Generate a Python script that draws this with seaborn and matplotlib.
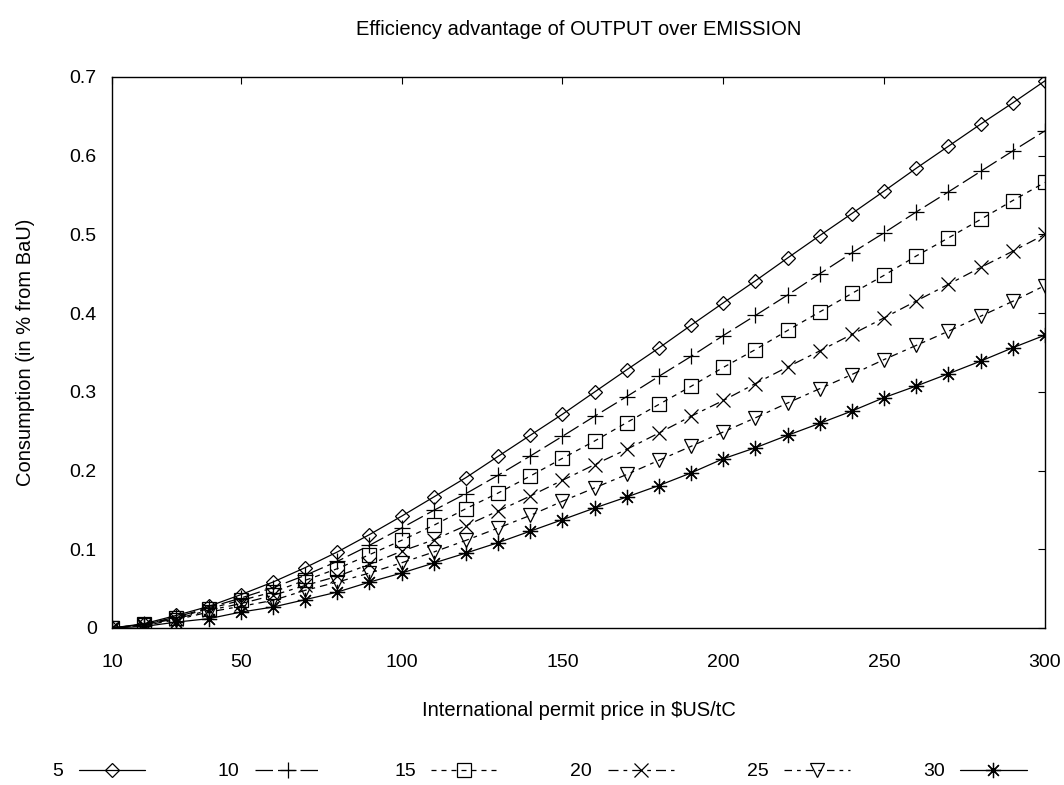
import numpy as np
import pandas as pd
import matplotlib
matplotlib.use("Agg")
import matplotlib.pyplot as plt
import seaborn as sns

prices = [10, 20, 30, 40, 50, 60, 70, 80, 90, 100, 110, 120, 130, 140, 150,
          160, 170, 180, 190, 200, 210, 220, 230, 240, 250, 260, 270, 280, 290, 300]

s5 = [0, 0.0055, 0.016, 0.0274, 0.0423, 0.0583, 0.0766, 0.0965, 0.1186, 0.142,
      0.1664, 0.191, 0.218, 0.2448, 0.2715, 0.2998, 0.328, 0.3557, 0.3846, 0.413,
      0.441, 0.470, 0.4985, 0.5265, 0.555, 0.584, 0.612, 0.640, 0.667, 0.695]
s10 = [0, 0.0046, 0.0139, 0.0258, 0.038, 0.0512, 0.0668, 0.0846, 0.105, 0.127,
       0.1494, 0.1707, 0.194, 0.2184, 0.2435, 0.269, 0.294, 0.3197, 0.345, 0.3715,
       0.397, 0.423, 0.450, 0.4765, 0.502, 0.5285, 0.554, 0.580, 0.606, 0.6315]
s15 = [0, 0.0046, 0.013, 0.0245, 0.035, 0.0456, 0.0605, 0.0753, 0.0931, 0.1113,
       0.1304, 0.1516, 0.1714, 0.193, 0.2155, 0.2375, 0.261, 0.284, 0.307, 0.331,
       0.3537, 0.378, 0.4015, 0.425, 0.448, 0.4726, 0.4955, 0.519, 0.543, 0.566]
s20 = [0, 0.0042, 0.0118, 0.0224, 0.0309, 0.0414, 0.054, 0.0656, 0.0808, 0.0975,
       0.112, 0.130, 0.1486, 0.1676, 0.1876, 0.2075, 0.227, 0.2477, 0.269, 0.289,
       0.3105, 0.3316, 0.352, 0.373, 0.394, 0.4154, 0.4366, 0.458, 0.4786, 0.500]
s25 = [0, 0.0033, 0.0105, 0.0202, 0.0275, 0.035, 0.0478, 0.0583, 0.0698, 0.0828,
       0.0965, 0.1113, 0.127, 0.143, 0.161, 0.178, 0.195, 0.213, 0.2308, 0.249,
       0.267, 0.2858, 0.304, 0.322, 0.341, 0.359, 0.377, 0.396, 0.415, 0.435]
s30 = [0, 0.002, 0.0075, 0.0118, 0.0202, 0.0266, 0.036, 0.0456, 0.0583, 0.0698,
       0.0825, 0.0952, 0.1084, 0.123, 0.1376, 0.1524, 0.1664, 0.181, 0.197, 0.215,
       0.229, 0.2448, 0.260, 0.2756, 0.2927, 0.3074, 0.323, 0.339, 0.356, 0.372]

series_labels = ["5", "10", "15", "20", "25", "30"]
series_values = [s5, s10, s15, s20, s25, s30]

x_ticks = [10, 50, 100, 150, 200, 250, 300]
y_ticks = [0, 0.1, 0.2, 0.3, 0.4, 0.5, 0.6, 0.7]

title = "Efficiency advantage of OUTPUT over EMISSION"
xlabel = r"International permit price in \$US/tC"
ylabel = "Consumption (in % from BaU)"

sns.set_theme(style="white")
plt.rcParams["font.family"] = ["Liberation Sans", "DejaVu Sans"]
plt.rcParams["text.color"] = "black"
plt.rcParams["axes.labelcolor"] = "black"
plt.rcParams["axes.titlecolor"] = "black"

markers = ["D", "+", "s", "x", "v", (8, 2, 0)]
msizes = [7, 11, 9.5, 10, 10, 11]
dashes = ["solid", (0, (14, 4)), (0, (4, 4)), (0, (8, 4, 3, 4)),
          (0, (6, 4, 3, 4)), "solid"]

fig = plt.figure(figsize=(10.64, 7.85), dpi=100)
ax = fig.add_axes([0.1053, 0.2, 0.8768, 0.702])

df = pd.DataFrame({"price": prices * len(series_labels),
                   "value": sum(series_values, []),
                   "series": sum([[lab] * len(prices) for lab in series_labels], [])})

for i, lab in enumerate(series_labels):
    sub = df[df["series"] == lab]
    sns.lineplot(data=sub, x="price", y="value", ax=ax, color="black",
                 linewidth=0.9, linestyle=dashes[i], marker=markers[i],
                 markersize=msizes[i], markerfacecolor="none",
                 markeredgecolor="black", markeredgewidth=0.9,
                 label=lab, legend=False)

ax.set_xlim(10, 300)
ax.set_ylim(0, 0.7)
ax.set_xticks(x_ticks)
ax.set_xticklabels([str(t) for t in x_ticks])
ax.set_yticks(y_ticks)
ax.set_yticklabels(["0" if t == 0 else f"{t:g}" for t in y_ticks])
ax.tick_params(axis="both", which="both", direction="in", length=5, width=0.8,
               top=True, right=True, labelsize=14, colors="black")
ax.tick_params(axis="x", pad=19)
ax.tick_params(axis="y", pad=11)
for sp in ax.spines.values():
    sp.set_color("black")
    sp.set_linewidth(1.0)
ax.grid(False)

ax.set_title(title, fontsize=14.5, pad=30, color="black")
ax.set_xlabel(xlabel, fontsize=14.5, labelpad=21, color="black")
ax.set_ylabel(ylabel, fontsize=14.5, labelpad=25, color="black")

handles, labels = ax.get_legend_handles_labels()
leg = fig.legend(handles, labels, loc="lower center", bbox_to_anchor=(0.507, -0.009),
                 ncol=6, frameon=False, markerfirst=False, fontsize=14,
                 handlelength=3.4, columnspacing=3.75, handletextpad=0.8,
                 borderpad=0.1)
for t in leg.get_texts():
    t.set_color("black")

fig.savefig("out.png", dpi=100, facecolor="white")
